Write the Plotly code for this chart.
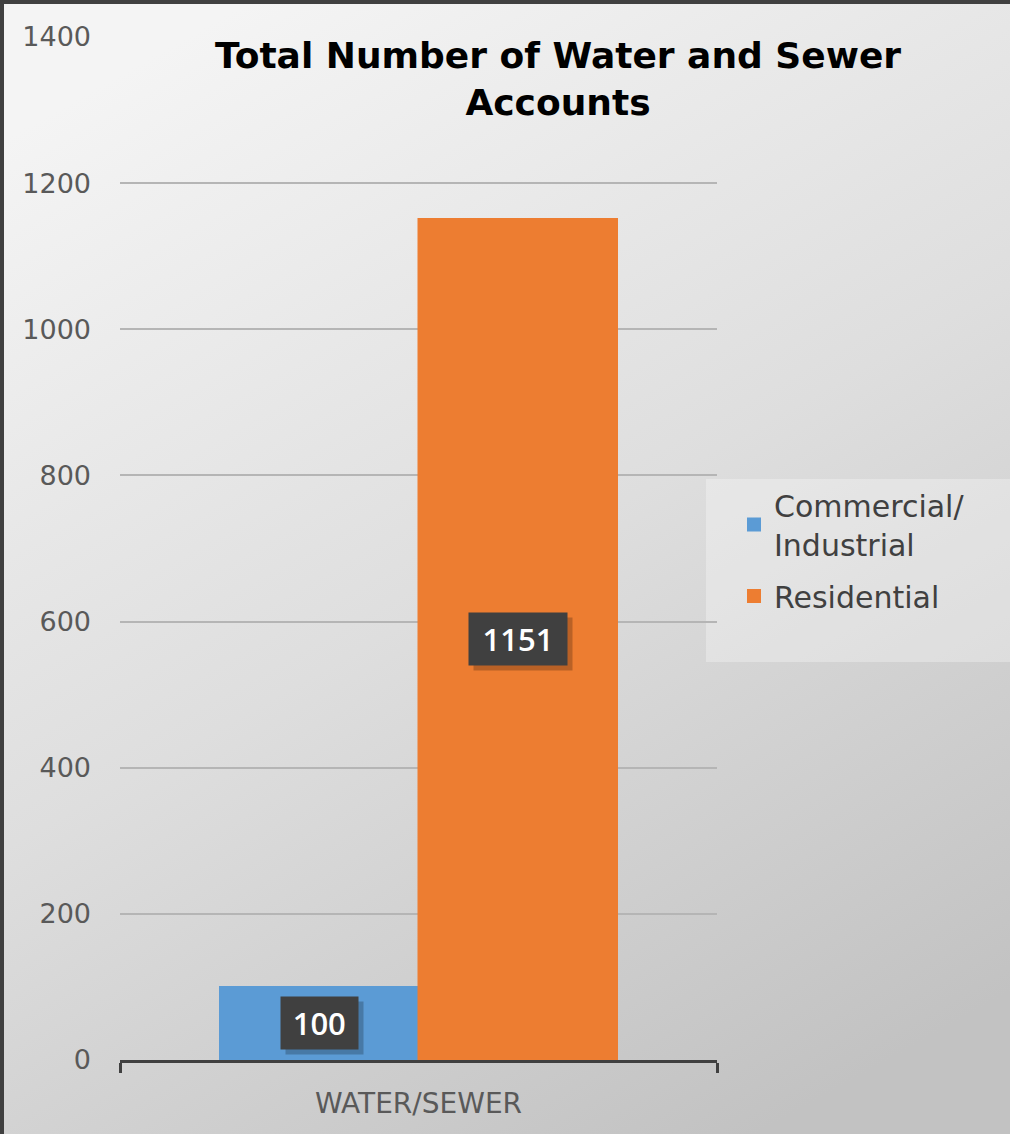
import base64
import plotly.graph_objects as go

# ---- data ----
categories = ["WATER/SEWER"]
series_names = ["Commercial/<br>Industrial", "Residential"]
commercial_values = [100]
residential_values = [1151]
series_colors = ["#5b9bd5", "#ed7d31"]
y_tick_values = [0, 200, 400, 600, 800, 1000, 1200, 1400]

W, H = 1010, 1134
M_L, M_R, M_T, M_B = 120, 293, 37, 74
BARGAP = 0.335

fig = go.Figure()
for k, (name, vals, col) in enumerate(zip(series_names, [commercial_values, residential_values], series_colors)):
    fig.add_trace(go.Bar(
        x=categories, y=vals, name=name, legendgroup=f"g{k}",
        marker=dict(color=col, line=dict(width=2, color=col)),
        hoverinfo="skip",
    ))

# value labels: dark boxes (with a soft drop shadow) centred on each bar
bar_w = (1 - BARGAP) / 2
for i, vals in enumerate([commercial_values, residential_values]):
    xc = -bar_w / 2 + i * bar_w
    for v in vals:
        box_w = 21.5 * len(str(v))
        common = dict(x=xc, y=v / 2, xref="x", yref="y", showarrow=False,
                      borderpad=6, width=box_w, height=40)
        fig.add_annotation(**common, text=" ", bgcolor="rgba(0,0,0,0.22)",
                           xshift=5, yshift=-5)
        fig.add_annotation(**common, text=str(v), bgcolor="#404040",
                           font=dict(family="Open Sans", size=31, color="#ffffff", weight=600))

# soft grey gradient backdrop with dark top/left frame
svg = f'''<svg xmlns="http://www.w3.org/2000/svg" width="{W}" height="{H}" viewBox="0 0 {W} {H}" preserveAspectRatio="none">
<defs><linearGradient id="g" x1="0.25" y1="0" x2="0.75" y2="1">
<stop offset="0" stop-color="#f4f4f4"/><stop offset="0.5" stop-color="#dedede"/><stop offset="1" stop-color="#c2c2c2"/>
</linearGradient></defs>
<rect width="{W}" height="{H}" fill="url(#g)"/>
<rect x="0" y="0" width="{W}" height="4" fill="#404040"/>
<rect x="0" y="0" width="4" height="{H}" fill="#404040"/>
</svg>'''
src = "data:image/svg+xml;base64," + base64.b64encode(svg.encode()).decode()
pw, ph = W - M_L - M_R, H - M_T - M_B
fig.add_layout_image(dict(
    source=src, xref="paper", yref="paper",
    x=-M_L / pw, y=1 + M_T / ph, sizex=W / pw, sizey=H / ph,
    xanchor="left", yanchor="top", sizing="stretch", layer="below",
))

# lighter panel behind the legend, running off the right edge
fig.add_shape(type="rect", xref="paper", yref="paper", layer="below",
              x0=(706 - M_L) / pw, x1=(W + 5 - M_L) / pw,
              y0=1 - (662 - M_T) / ph, y1=1 - (479 - M_T) / ph,
              fillcolor="rgba(255,255,255,0.3)", line=dict(width=0))

fig.update_layout(
    width=W, height=H,
    margin=dict(l=M_L, r=M_R, t=M_T, b=M_B, pad=0),
    paper_bgcolor="#dcdcdc", plot_bgcolor="rgba(0,0,0,0)",
    barmode="group", bargap=BARGAP, bargroupgap=0,
    title=dict(
        text="<b>Total Number of Water and Sewer<br>Accounts</b>",
        font=dict(family="DejaVu Sans", size=36, color="#000000"),
        x=558 / W, xanchor="center", y=1 - 68 / H, yanchor="top",
    ),
    legend=dict(
        x=(734 - M_L) / pw, xanchor="left", y=1 - (479 - M_T) / ph, yanchor="top",
        bgcolor="rgba(0,0,0,0)", tracegroupgap=10,
        font=dict(family="DejaVu Sans", size=30, color="#404040"),
        itemclick=False, itemdoubleclick=False,
    ),
    showlegend=True,
    xaxis=dict(
        type="category",
        showline=True, linecolor="#404040", linewidth=3,
        ticks="outside", tickson="boundaries", ticklen=10, tickwidth=3, tickcolor="#404040",
        tickfont=dict(family="DejaVu Sans", size=28, color="#595959"),
        ticklabelstandoff=16,
        showgrid=False, fixedrange=True,
    ),
    yaxis=dict(
        range=[0, 1400], tickvals=y_tick_values,
        showgrid=True, gridcolor="#b5b5b5", gridwidth=2,
        zeroline=False, showline=False, ticks="",
        ticklabelstandoff=28,
        tickfont=dict(family="DejaVu Sans", size=27, color="#595959"),
        fixedrange=True,
    ),
)

fig.write_html("out.html")
